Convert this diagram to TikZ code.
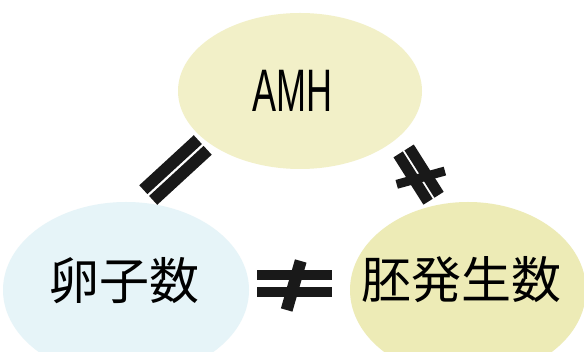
\documentclass[tikz,border=0pt]{standalone}
\usepackage{fontspec}
\setmainfont{Liberation Sans}
\newfontfamily\cjk{Noto Sans CJK JP}
\usetikzlibrary{shapes.geometric}
\definecolor{amhfill}{RGB}{242,240,200}
\definecolor{embfill}{RGB}{237,235,182}
\definecolor{ovfill}{RGB}{230,244,248}
\tikzset{
  blob/.style={ellipse, draw=none, inner sep=0pt},
  jtext/.style={anchor=base, inner sep=0pt, font=\cjk\fontsize{50}{50}\selectfont},
  bar/.style={fill=black!90}
}
\begin{document}
\begin{tikzpicture}[x=1pt,y=1pt]
\useasboundingbox (0,0) rectangle (584,-352);
\clip (0,0) rectangle (584,-352);
\fill[white] (0,0) rectangle (584,-352);
% ellipses
\node[blob, fill=amhfill, minimum width=244pt, minimum height=156pt] (amh) at (300,-91) {};
\node[blob, fill=ovfill, minimum width=246pt, minimum height=176pt] (ovum) at (126,-290) {};
\node[blob, fill=embfill, minimum width=236pt, minimum height=176pt] (embryo) at (468,-290) {};
% texts
\node[anchor=base, inner sep=0pt, font=\fontsize{60}{60}\selectfont] (amhtxt) at (292.5,-112) {\scalebox{0.6}[1]{AMH}};
\node[jtext] (ovtxt) at (124,-300) {卵子数};
\node[jtext] (embtxt) at (461,-299) {胚発生数};
% "=" between AMH and ovum count
\begin{scope}[shift={(175.5,-170)}, rotate=42.6]
  \fill[bar] (-37,1.25) rectangle (37,13.25);
  \fill[bar] (-37,-13.25) rectangle (37,-1.25);
\end{scope}
% "not equal" between AMH and embryo count
\begin{scope}[shift={(418.6,-174.6)}, rotate=-57.7]
  \fill[bar] (-28,1) rectangle (28,12);
  \fill[bar] (-28,-12) rectangle (28,-1);
\end{scope}
\begin{scope}[shift={(420.8,-177.7)}, rotate=15.4]
  \fill[bar] (-25,-4.5) rectangle (25,4.5);
\end{scope}
% "not equal" between ovum count and embryo count
\fill[bar] (257.3,-270) rectangle (331.7,-280);
\fill[bar] (257.3,-286.7) rectangle (331.7,-296.7);
\begin{scope}[shift={(293.7,-285.5)}, rotate=74]
  \fill[bar] (-25.5,-6) rectangle (25.5,6);
\end{scope}
\end{tikzpicture}
\end{document}
